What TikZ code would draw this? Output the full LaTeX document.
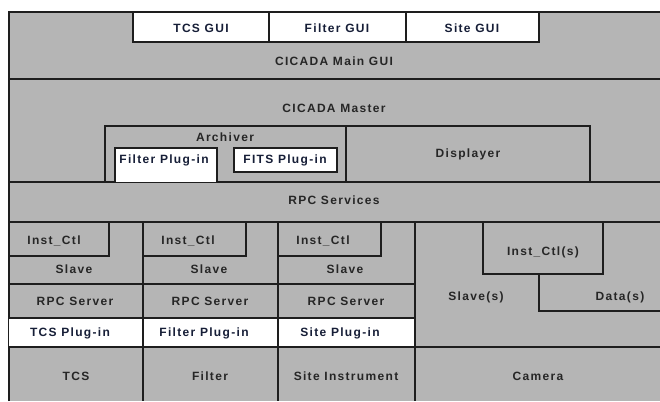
\documentclass[tikz,border=0pt]{standalone}
\usepackage{fontspec}
\setmainfont{Liberation Sans}[LetterSpace=11]
\definecolor{bggray}{RGB}{181,181,181}
\definecolor{linecol}{RGB}{30,30,30}
\definecolor{navytext}{RGB}{22,30,55}
\tikzset{
  ln/.style={draw=linecol, line width=1.3pt},
  wbox/.style={ln, fill=white},
  lbl/.style={font=\fontsize{12}{14}\selectfont\bfseries, inner sep=0pt, text=black!85},
  nlbl/.style={lbl, text=navytext}
}
\begin{document}
\begin{tikzpicture}[x=1pt,y=-1pt]
\useasboundingbox (0,0) rectangle (660,401);
% background
\fill[bggray] (9,12) rectangle (660,401);
% outer left and top borders
\draw[ln] (9,401) -- (9,12) -- (660,12);
% GUI boxes
\draw[wbox] (133,12) rectangle (269,42);
\draw[wbox] (269,12) rectangle (406,42);
\draw[wbox] (406,12) rectangle (539,42);
% main separators
\draw[ln] (9,79) -- (660,79);
\draw[ln] (9,182) -- (660,182);
\draw[ln] (9,222) -- (660,222);
% Archiver and Displayer
\draw[ln] (105,182) -- (105,126) -- (590,126) -- (590,182);
\draw[ln] (346,126) -- (346,182);
\draw[wbox] (115,182) -- (115,148) -- (217,148) -- (217,182);
\draw[wbox] (234,148) rectangle (337,172);
% plug-in white row
\fill[white] (9,318) rectangle (415,347);
% instrument columns
\draw[ln] (9,284) -- (415,284);
\draw[ln] (9,318) -- (415,318);
\draw[ln] (9,347) -- (660,347);
\draw[ln] (143,222) -- (143,401);
\draw[ln] (278,222) -- (278,401);
\draw[ln] (415,222) -- (415,401);
% Inst_Ctl boxes
\draw[ln] (9,256) -- (109,256) -- (109,222);
\draw[ln] (143,256) -- (246,256) -- (246,222);
\draw[ln] (278,256) -- (381,256) -- (381,222);
% camera region
\draw[ln] (483,222) -- (483,274) -- (603,274) -- (603,222);
\draw[ln] (539,274) -- (539,311) -- (660,311);
% texts
\node[nlbl] (tcsgui) at (201,28) {TCS GUI};
\node[nlbl] (filtergui) at (337,28) {Filter GUI};
\node[nlbl] (sitegui) at (472,28) {Site GUI};
\node[lbl] (maingui) at (334,61) {CICADA Main GUI};
\node[lbl] (master) at (334,108) {CICADA Master};
\node[lbl] (archiver) at (225,137) {Archiver};
\node[nlbl] (filterplug) at (164,160) {Filter Plug-in};
\node[nlbl] (fitsplug) at (285,160) {FITS Plug-in};
\node[lbl] (displayer) at (468,154) {Displayer};
\node[lbl] (rpcserv) at (334,200) {RPC Services};
\node[lbl] (ictl1) at (54,241) {Inst\_Ctl};
\node[lbl] (ictl2) at (188,241) {Inst\_Ctl};
\node[lbl] (ictl3) at (323,241) {Inst\_Ctl};
\node[lbl] (slave1) at (74,269) {Slave};
\node[lbl] (slave2) at (209,269) {Slave};
\node[lbl] (slave3) at (345,269) {Slave};
\node[lbl] (rpc1) at (75,301) {RPC Server};
\node[lbl] (rpc2) at (210,301) {RPC Server};
\node[lbl] (rpc3) at (346,301) {RPC Server};
\node[nlbl] (tcsplug) at (70,333) {TCS Plug-in};
\node[nlbl] (filplug) at (204,333) {Filter Plug-in};
\node[nlbl] (siteplug) at (340,333) {Site Plug-in};
\node[lbl] (tcs) at (76,376) {TCS};
\node[lbl] (filter) at (210,376) {Filter};
\node[lbl] (siteinst) at (346,376) {Site Instrument};
\node[lbl] (camera) at (538,376) {Camera};
\node[lbl] (ictls) at (543,252) {Inst\_Ctl(s)};
\node[lbl] (slaves) at (476,297) {Slave(s)};
\node[lbl] (datas) at (620,297) {Data(s)};
\end{tikzpicture}
\end{document}
